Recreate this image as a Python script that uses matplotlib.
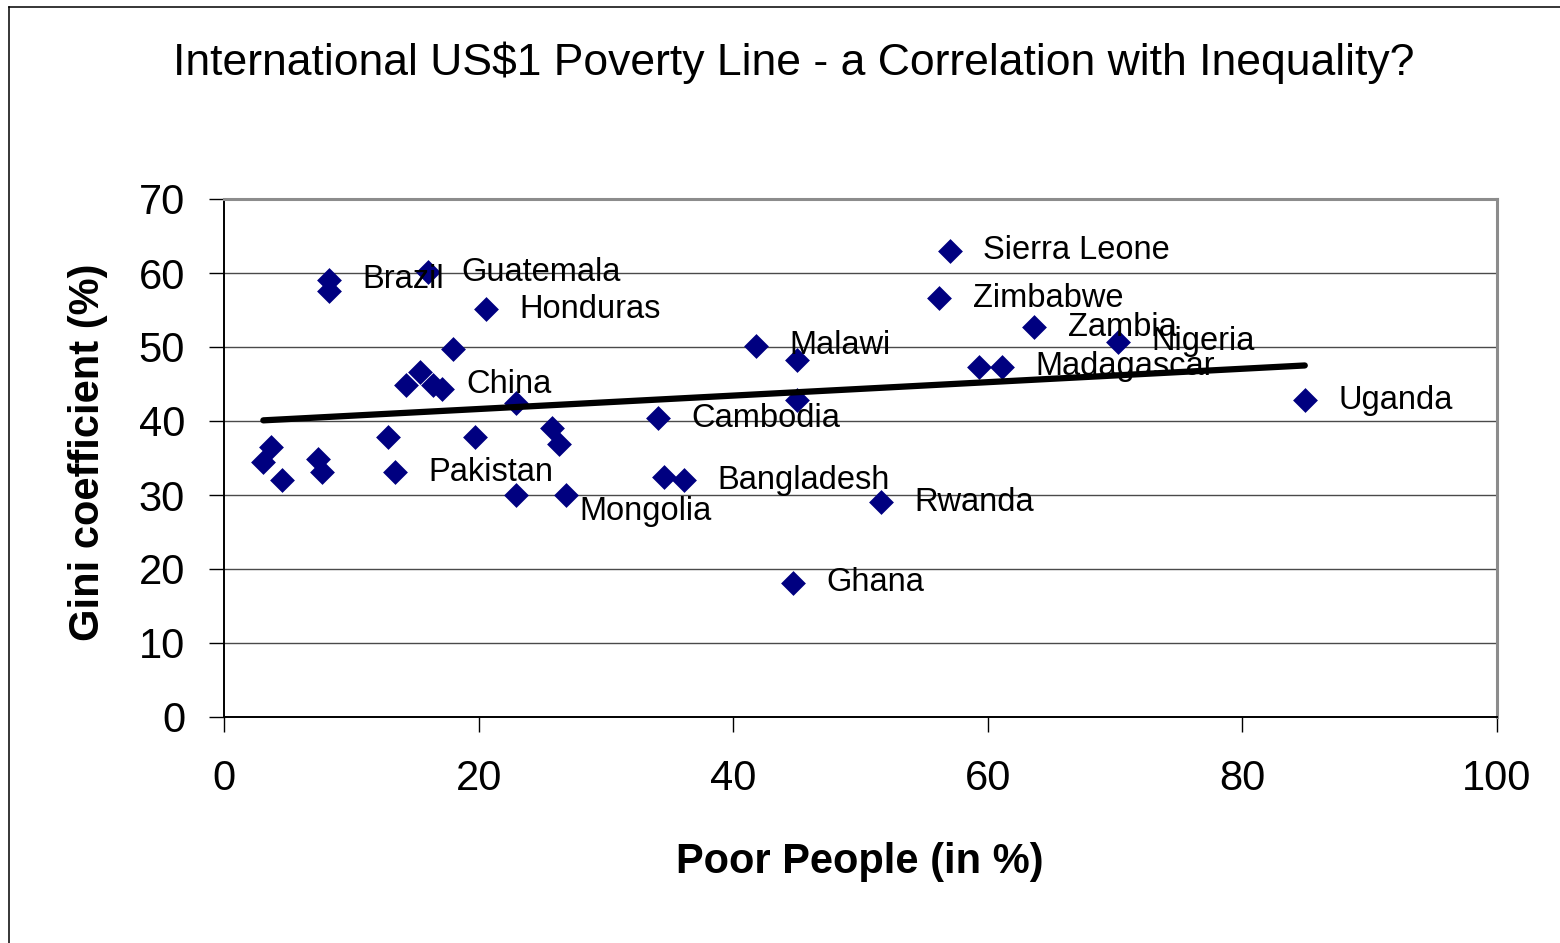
import matplotlib
matplotlib.use("Agg")
import matplotlib.pyplot as plt
from matplotlib.lines import Line2D
import numpy as np

# share of population below US$1/day (%) and Gini coefficient (%)
poor_pct = [
    8.25, 8.25, 16.05, 20.6, 18.0, 14.27, 15.4, 16.4, 17.15, 22.9,
    12.86, 19.7, 25.8, 26.3, 3.67, 3.09, 4.56, 7.38, 7.7, 13.43,
    22.9, 26.9, 34.1, 34.6, 36.1, 57.0, 56.2, 63.65, 41.8, 45.0,
    59.3, 61.1, 45.0, 51.6, 44.7, 70.25, 84.9,
]
gini_pct = [
    59.1, 57.6, 60.1, 55.1, 49.7, 44.9, 46.6, 44.9, 44.3, 42.4,
    37.9, 37.9, 39.0, 36.9, 36.5, 34.5, 32.0, 34.9, 33.1, 33.1,
    30.0, 30.0, 40.4, 32.5, 32.0, 63.0, 56.6, 52.7, 50.2, 48.2,
    47.3, 47.3, 42.8, 29.0, 18.15, 50.7, 42.8,
]
country = [
    "Brazil", "", "Guatemala", "Honduras", "", "", "", "China", "", "",
    "", "", "", "", "", "", "", "", "", "Pakistan",
    "", "Mongolia", "Cambodia", "", "Bangladesh", "Sierra Leone", "Zimbabwe", "Zambia", "Malawi", "",
    "", "Madagascar", "", "Rwanda", "Ghana", "Nigeria", "Uganda",
]

x_ticks = [0, 20, 40, 60, 80, 100]
y_ticks = [0, 10, 20, 30, 40, 50, 60, 70]

plt.rcParams["font.family"] = ["Liberation Sans", "DejaVu Sans"]

W, H = 1560, 943
fig = plt.figure(figsize=(W / 100, H / 100), dpi=100)
ax = fig.add_axes([224 / W, 1 - 717 / H, (1497 - 224) / W, (717 - 199) / H])

x = np.array(poor_pct)
y = np.array(gini_pct)

ax.scatter(x, y, s=160, marker="D", color="#000080", linewidths=0, zorder=3)

# linear trend over the data range
slope, intercept = np.polyfit(x, y, 1)
xs = np.array([x.min(), x.max()])
ax.plot(xs, slope * xs + intercept, color="black", lw=4.5, solid_capstyle="round", zorder=4)

# country labels sit to the right of their marker
label_offsets = {"Mongolia": (9, -12)}
for xi, yi, name in zip(x, y, country):
    if not name:
        continue
    off = label_offsets.get(name, (24, 0))
    ax.annotate(name, xy=(xi, yi), xytext=off, textcoords="offset points",
                ha="left", va="center", fontsize=23.5, color="black", zorder=5)

ax.set_xlim(0, 100)
ax.set_ylim(0, 70)
ax.set_xticks(x_ticks)
ax.set_yticks(y_ticks)
ax.tick_params(axis="both", labelsize=30, length=11, width=1.0, color="black", direction="out")
ax.tick_params(axis="x", pad=19)
ax.tick_params(axis="y", pad=17)

ax.grid(axis="y", color="#4a4a4a", lw=1.0, zorder=1)
ax.set_axisbelow(True)
for side in ("top", "right"):
    ax.spines[side].set_color("#8c8c8c")
    ax.spines[side].set_linewidth(2.2)
for side in ("left", "bottom"):
    ax.spines[side].set_color("black")
    ax.spines[side].set_linewidth(1.4)

fig.text(794 / W, 1 - 75 / H, "International US$1 Poverty Line - a Correlation with Inequality?",
         ha="center", va="baseline", fontsize=32)
fig.text(860 / W, 1 - 862 / H, "Poor People (in %)", ha="center", va="center",
         fontsize=30, fontweight="bold")
fig.text(88 / W, 1 - 452 / H, "Gini coefficient (%)", ha="center", va="center",
         rotation=90, fontsize=30, fontweight="bold")

# outer frame, left and top edges visible
fig.add_artist(Line2D([8.5 / W, 8.5 / W], [0, 1 - 6.5 / H], transform=fig.transFigure,
                      color="black", lw=1.1))
fig.add_artist(Line2D([8.5 / W, 1], [1 - 6.5 / H, 1 - 6.5 / H], transform=fig.transFigure,
                      color="black", lw=1.1))

fig.savefig("out.png", dpi=100)
